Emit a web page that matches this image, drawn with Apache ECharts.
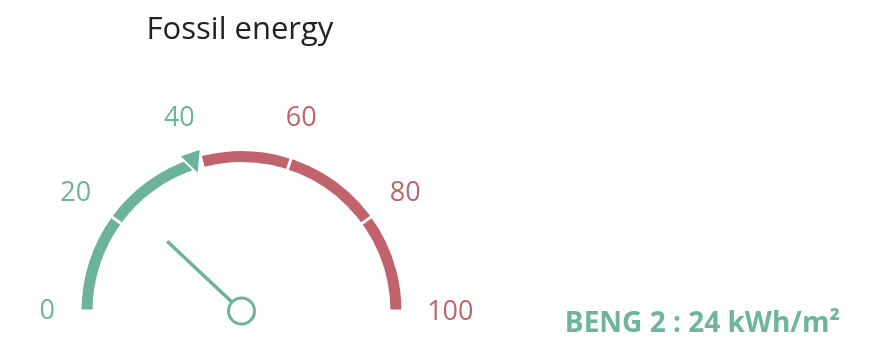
<!DOCTYPE html>
<html>
<head>
<meta charset="utf-8">
<style>
  html, body { margin: 0; padding: 0; background: #ffffff; }
  #chart { width: 881px; height: 342px; }
</style>
<script src="https://cdn.jsdelivr.net/npm/echarts@6/dist/echarts.min.js"></script>
</head>
<body>
<div id="chart"></div>
<script>
// Gauge scale and values
const gaugeMin = 0;
const gaugeMax = 100;
const gaugeSplits = 5;               // ticks at 0, 20, 40, 60, 80, 100
const fossilValue = [24];            // BENG 2 result, kWh/m²
const targetValue = [40];            // limit marker on the arc
const greenEnd = [40];               // green band runs up to here
const redStart = [42];               // red band starts here
const indicatorName = 'BENG 2';
const indicatorUnit = 'kWh/m²';
const chartTitle = 'Fossil energy';

const GREEN = '#6db39b';
const RED = '#c0636c';

// Centre and outer radius of the dial
const CX = 241.5, CY = 311, R = 160, BAND = 11;

const span = gaugeMax - gaugeMin;

// Each tick label gets its own rich style so it sits just outside the arc
const labelRich = {
  t0:   { padding: [0, 0, 0, 38] },
  t20:  { padding: [47, 0, 0, 13] },
  t40:  { padding: [22, 0, 0, 24] },
  t60:  { padding: [22, 29, 0, 0] },
  t80:  { padding: [47, 15, 0, 0] },
  t100: { padding: [2, 8, 0, 0] }
};

const chart = echarts.init(document.getElementById('chart'), null, { renderer: 'canvas' });

chart.setOption({
  animation: false,
  backgroundColor: '#ffffff',
  title: [
    {
      text: chartTitle,
      left: 235,
      top: 10,
      textAlign: 'center',
      textStyle: { fontFamily: 'Open Sans', fontSize: 31, fontWeight: 'normal', color: '#222222' }
    },
    {
      text: indicatorName + ' : ' + fossilValue[0] + ' ' + indicatorUnit,
      right: 36,
      top: 305,
      textStyle: { fontFamily: 'Open Sans', fontSize: 28, fontWeight: 'bold', color: '#6fb59d' }
    }
  ],
  series: [
    {
      type: 'gauge',
      center: [CX, CY],
      radius: R,
      startAngle: 180,
      endAngle: 0,
      min: gaugeMin,
      max: gaugeMax,
      splitNumber: gaugeSplits,
      axisLine: {
        lineStyle: {
          width: BAND,
          color: [
            [(greenEnd[0] - gaugeMin) / span, GREEN],
            [(redStart[0] - gaugeMin) / span, '#ffffff'],
            [1, RED]
          ]
        }
      },
      splitLine: {
        show: true,
        distance: -12,
        length: 13,
        lineStyle: { color: '#ffffff', width: 3 }
      },
      axisTick: { show: false },
      axisLabel: {
        show: true,
        distance: -81,
        color: function (v) { return v <= greenEnd[0] ? GREEN : RED; },
        fontFamily: 'Open Sans',
        fontSize: 27,
        formatter: function (v) { return '{t' + v + '|' + v + '}'; },
        rich: labelRich
      },
      pointer: {
        show: true,
        icon: 'rect',
        length: 102,
        width: 3.5,
        itemStyle: { color: GREEN }
      },
      anchor: {
        show: true,
        showAbove: true,
        size: 26,
        icon: 'circle',
        itemStyle: { color: '#ffffff', borderColor: GREEN, borderWidth: 3 }
      },
      title: { show: false },
      detail: { show: false },
      data: [{ value: fossilValue[0] }]
    },
    {
      // Limit marker: a small wedge on the arc pointing towards the centre
      type: 'gauge',
      center: [CX, CY],
      radius: R,
      startAngle: 180,
      endAngle: 0,
      min: gaugeMin,
      max: gaugeMax,
      axisLine: { show: false },
      splitLine: { show: false },
      axisTick: { show: false },
      axisLabel: { show: false },
      pointer: {
        show: true,
        icon: 'path://M0,0 L20,0 L11,20 Z',
        width: 23,
        length: 24,
        offsetCenter: [0, -143],
        itemStyle: { color: GREEN, borderColor: '#ffffff', borderWidth: 2 }
      },
      anchor: { show: false },
      title: { show: false },
      detail: { show: false },
      data: [{ value: targetValue[0] }]
    }
  ]
});
</script>
</body>
</html>
